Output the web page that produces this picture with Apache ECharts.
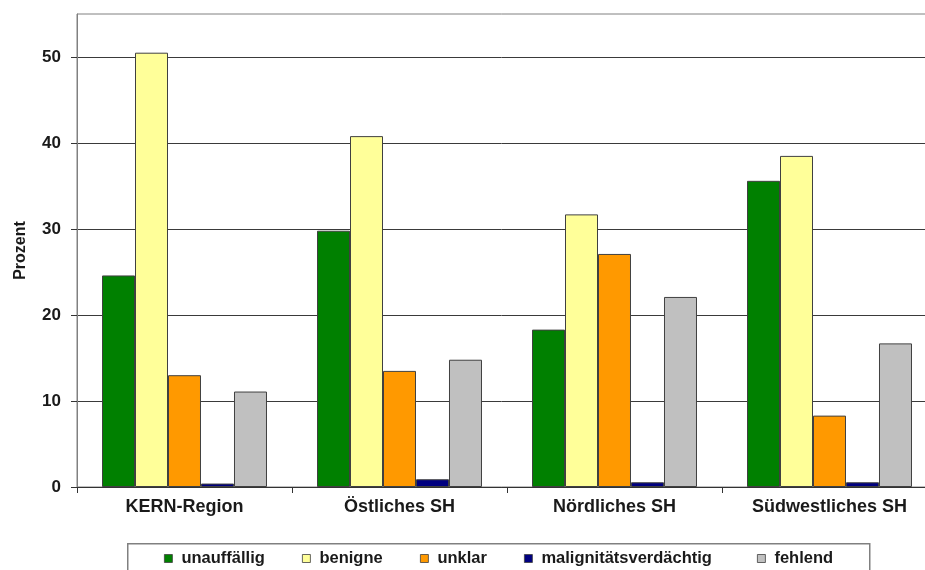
<!DOCTYPE html>
<html>
<head>
<meta charset="utf-8">
<script src="https://cdn.jsdelivr.net/npm/echarts@6/dist/echarts.min.js"></script>
<style>
  html, body { margin: 0; padding: 0; background: #ffffff; }
  #chart { width: 925px; height: 570px; }
</style>
</head>
<body>
<div id="chart"></div>
<script>
// Regions shown along the x axis
const regions = ['KERN-Region', 'Östliches SH', 'Nördliches SH', 'Südwestliches SH'];

// Findings categories (legend order) and their fill colours
const findingNames = ['unauffällig', 'benigne', 'unklar', 'malignitätsverdächtig', 'fehlend'];
const findingColors = ['#008000', '#FFFF99', '#FF9900', '#000080', '#C0C0C0'];

// Share per region, in percent
const unauffaellig = [24.6, 29.8, 18.3, 35.6];
const benigne = [50.5, 40.8, 31.7, 38.5];
const unklar = [13.0, 13.5, 27.1, 8.3];
const malignitaetsverdaechtig = [0.4, 0.9, 0.55, 0.55];
const fehlend = [11.1, 14.8, 22.1, 16.7];

// Y axis ticks
const yTicks = [0, 10, 20, 30, 40, 50];
const yMax = 55;

const seriesValues = [unauffaellig, benigne, unklar, malignitaetsverdaechtig, fehlend];
const fontFamily = '"Liberation Sans", Arial, sans-serif';

// Horizontal position of each legend entry inside the legend box
const legendLefts = [164, 302, 420, 524, 757];

const chart = echarts.init(document.getElementById('chart'), null, { renderer: 'canvas' });

chart.setOption({
  animation: false,
  backgroundColor: '#ffffff',
  textStyle: { fontFamily: fontFamily },
  grid: {
    left: 77,
    top: 14,
    width: 860,
    height: 473,
    outerBoundsMode: 'none',
    containLabel: false,
    show: true,
    borderColor: '#808080',
    borderWidth: 1,
    backgroundColor: 'transparent'
  },
  xAxis: {
    type: 'category',
    data: regions,
    axisLine: { show: true, lineStyle: { color: '#333333', width: 1 } },
    axisTick: { show: true, length: 6, lineStyle: { color: '#333333' } },
    axisLabel: {
      margin: 11,
      fontSize: 18,
      fontWeight: 'bold',
      color: '#1a1a1a',
      fontFamily: fontFamily
    },
    splitLine: { show: false }
  },
  yAxis: {
    type: 'value',
    min: yTicks[0],
    max: yMax,
    interval: 10,
    name: 'Prozent',
    nameLocation: 'middle',
    nameGap: 48,
    nameTextStyle: {
      fontSize: 16,
      fontWeight: 'bold',
      color: '#1a1a1a',
      fontFamily: fontFamily
    },
    axisLine: { show: true, lineStyle: { color: '#808080', width: 1 } },
    axisTick: {
      show: true,
      length: 6,
      customValues: yTicks,
      lineStyle: { color: '#333333' }
    },
    axisLabel: {
      margin: 16,
      fontSize: 17,
      fontWeight: 'bold',
      color: '#1a1a1a',
      fontFamily: fontFamily,
      customValues: yTicks
    },
    splitLine: { show: true, lineStyle: { color: '#3a3a3a', width: 1 } }
  },
  legend: findingNames.map(function (name, i) {
    return {
      data: [name],
      left: legendLefts[i],
      top: 550,
      padding: 0,
      orient: 'horizontal',
      icon: 'rect',
      itemWidth: 8,
      itemHeight: 8,
      itemStyle: { borderColor: '#404040', borderWidth: 0.8 },
      textStyle: {
        fontSize: 16.5,
        fontWeight: 'bold',
        color: '#1a1a1a',
        fontFamily: fontFamily,
        padding: [0, 0, 0, 4]
      }
    };
  }),
  graphic: [{
    type: 'rect',
    left: 127,
    top: 543,
    shape: { width: 742, height: 40 },
    style: { fill: 'transparent', stroke: '#808080', lineWidth: 1.5 },
    z: -1
  }],
  series: findingNames.map(function (name, i) {
    return {
      name: name,
      type: 'bar',
      data: seriesValues[i],
      barGap: '0%',
      barCategoryGap: '23.26%',
      itemStyle: {
        color: findingColors[i],
        borderColor: '#404040',
        borderWidth: 1
      }
    };
  })
});
</script>
</body>
</html>
